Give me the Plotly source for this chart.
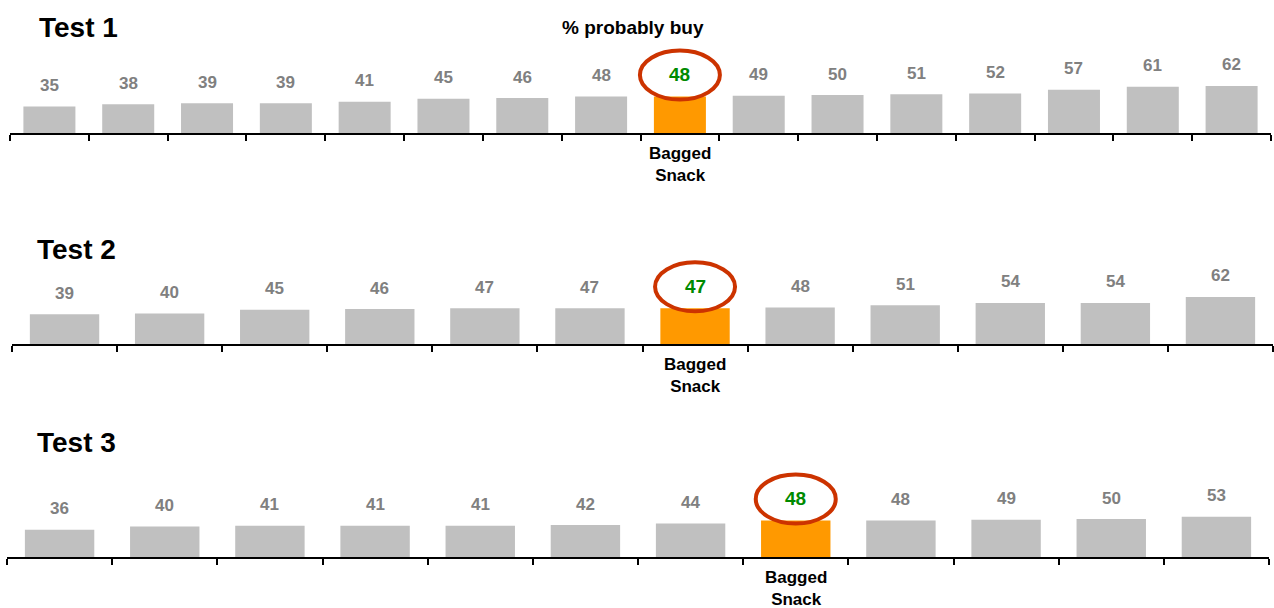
import plotly.graph_objects as go

# Purchase intent (% probably buy) per product, sorted ascending, for each test
test1_values = [35, 38, 39, 39, 41, 45, 46, 48, 48, 49, 50, 51, 52, 57, 61, 62]
test2_values = [39, 40, 45, 46, 47, 47, 47, 48, 51, 54, 54, 62]
test3_values = [36, 40, 41, 41, 41, 42, 44, 48, 48, 49, 50, 53]
highlight_index = [8, 6, 7]          # position of the bagged snack in each test
panel_titles = ["Test 1", "Test 2", "Test 3"]
highlight_label = "Bagged<br>Snack"
measure_label = "% probably buy"

W, H = 1274, 608
FONT = "Liberation Sans, Arial, sans-serif"
BAR_GREY = "#c0c0c0"
BAR_ORANGE = "#ff9900"
LABEL_GREY = "#808080"
LABEL_GREEN = "#008a00"
RING = "#cc3300"

# pixel geometry of each panel: (axis left, axis right, baseline y)
panels = [(10, 1271, 133), (12, 1273, 344), (7, 1269, 557)]
PLOT_H = 93          # pixel height of each plotting area
Y_MAX = 122.4        # value range shown in that height
title_pos = [(37, 28), (35, 249), (35, 443)]

series = [test1_values, test2_values, test3_values]

fig = go.Figure()
layout = dict(
    width=W, height=H,
    margin=dict(l=0, r=0, t=0, b=0),
    paper_bgcolor="white", plot_bgcolor="white",
    showlegend=False,
    bargap=0.34,
)
annotations = []
shapes = []

for k, (vals, hi, (x0, x1, base)) in enumerate(zip(series, highlight_index, panels)):
    n = len(vals)
    suffix = "" if k == 0 else str(k + 1)
    xa, ya = "x" + suffix, "y" + suffix
    xs = list(range(n))
    colors = [BAR_ORANGE if i == hi else BAR_GREY for i in xs]
    fig.add_trace(go.Bar(x=xs, y=vals, marker=dict(color=colors, line=dict(width=0)),
                         xaxis=xa, yaxis=ya, hoverinfo="skip"))

    layout["xaxis" + suffix] = dict(
        domain=[x0 / W, x1 / W], anchor=ya,
        range=[-0.5, n - 0.5],
        tickmode="array", tickvals=[i - 0.5 for i in range(n + 1)],
        ticks="outside", ticklen=6, tickwidth=1.5, tickcolor="black",
        showticklabels=False, showgrid=False, zeroline=False,
        showline=True, linecolor="black", linewidth=1.5, fixedrange=True,
    )
    layout["yaxis" + suffix] = dict(
        domain=[1 - base / H, 1 - (base - PLOT_H) / H], anchor=xa,
        range=[0, Y_MAX], visible=False, fixedrange=True,
    )

    # value labels above the bars
    for i, v in enumerate(vals):
        is_hi = i == hi
        annotations.append(dict(
            x=i, y=v, xref=xa, yref=ya, text=str(v), showarrow=False,
            yanchor="middle", yshift=22 if is_hi else 21,
            font=dict(family=FONT, size=19 if is_hi else 17,
                      color=LABEL_GREEN if is_hi else LABEL_GREY, weight="bold"),
        ))

    # ring around the highlighted value
    shapes.append(dict(
        type="circle", xref=xa, yref=ya,
        xsizemode="pixel", ysizemode="pixel",
        xanchor=hi, yanchor=vals[hi],
        x0=-40, x1=40, y0=-3, y1=46,
        line=dict(color=RING, width=4), fillcolor="rgba(0,0,0,0)",
    ))

    # category name under the highlighted bar
    annotations.append(dict(
        x=hi, y=0, xref=xa, yref=ya, text=highlight_label, showarrow=False,
        yanchor="top", yshift=-9,
        font=dict(family=FONT, size=17, color="black", weight="bold"),
    ))

    tx, ty = title_pos[k]
    annotations.append(dict(
        x=tx / W, y=1 - ty / H, xref="paper", yref="paper", text=panel_titles[k],
        showarrow=False, xanchor="left", yanchor="middle",
        font=dict(family=FONT, size=28, color="black", weight="bold"),
    ))

annotations.append(dict(
    x=633 / W, y=1 - 27 / H, xref="paper", yref="paper", text=measure_label,
    showarrow=False, xanchor="center", yanchor="middle",
    font=dict(family=FONT, size=19, color="black", weight="bold"),
))

layout["annotations"] = annotations
layout["shapes"] = shapes
fig.update_layout(**layout)

fig.write_html("out.html")
